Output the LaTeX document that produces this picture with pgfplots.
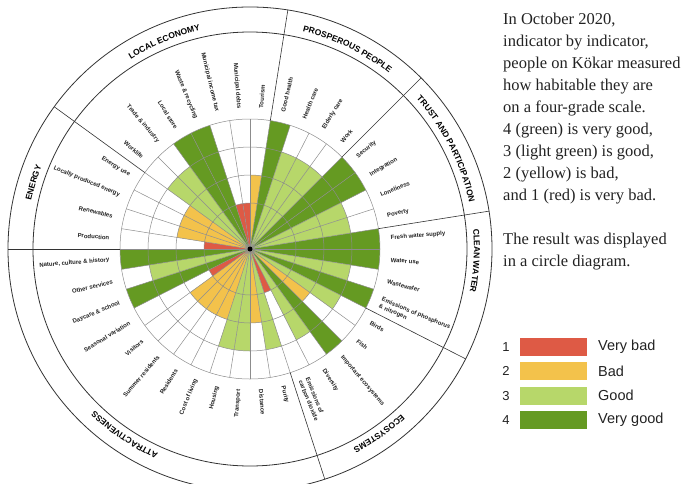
\documentclass[border=0pt]{standalone}
\usepackage{pgfplots}
\pgfplotsset{compat=1.18}
\usepackage{pgfplotstable}
\usetikzlibrary{decorations.text}
\usepackage{fontspec}
\setmainfont{Liberation Serif}
\setsansfont{Liberation Sans}
\definecolor{lev1}{HTML}{DE5A45}
\definecolor{lev2}{HTML}{F3C24B}
\definecolor{lev3}{HTML}{B7D76A}
\definecolor{lev4}{HTML}{659A22}
\definecolor{gridc}{HTML}{8C8C8C}
\definecolor{linec}{HTML}{333333}
\definecolor{txt}{HTML}{222222}

% start angle of each 9-degree sector (counter-clockwise from east) and its grade 1-4
\pgfplotstableread{
start level
0 4
-9 4
-18 3
-27 4
-36 3
-45 2
-54 4
-63 3
-72 1
-81 3
-90 2
-99 3
-108 3
-117 2
-126 2
-135 2
-144 2
-153 1
-162 4
-171 3
-180 4
171 1
162 2
153 2
144 2
135 3
126 3
117 4
108 4
99 1
90 1
81 2
72 4
63 3
54 3
45 3
36 4
27 4
18 3
9 3
}\sectors

\tikzset{lab/.style={inner sep=0pt, text=txt, font=\sffamily\bfseries\fontsize{6}{7.6}\selectfont}}
\newcommand\labR[2]{\node[lab, anchor=west, rotate=#1, align=left] at (#1:141pt) {#2};}
\newcommand\labL[2]{\node[lab, anchor=east, rotate=#1-180, align=right] at (#1:141pt) {#2};}
\newcommand\cat[2]{\path[decorate, decoration={text along path, text align=center,
  text={|\sffamily\bfseries\fontsize{8.5}{10}\selectfont|#2}}]
  ({#1+30}:224pt) arc[start angle={#1+30}, end angle={#1-30}, radius=224pt];}

\begin{document}
\begin{tikzpicture}[x=1pt,y=1pt]
\path[use as bounding box] (-250,-234) rectangle (448,249);
\clip (-250,-234) rectangle (448,249);
\begin{axis}[x=1pt, y=1pt, at={(0,0)}, anchor=origin, hide axis,
  xmin=-245, xmax=245, ymin=-245, ymax=245, clip=false]
\pgfplotsinvokeforeach{0,...,39}{
  \pgfplotstablegetelem{#1}{start}\of\sectors \let\wA\pgfplotsretval
  \pgfplotstablegetelem{#1}{level}\of\sectors \let\wL\pgfplotsretval
  \pgfmathsetmacro\wR{18+28*\wL}
  \pgfmathsetmacro\wM{\wA+4.5}
  \pgfmathsetmacro\wB{\wA+9}
  \edef\temp{\noexpand\addplot[data cs=polar, fill=lev\wL, draw=none, forget plot]
    coordinates {(\wA,0) (\wA,\wR) (\wM,\wR) (\wB,\wR)};}
  \temp
}
\end{axis}
% grid
\foreach \a in {0,9,...,351} \draw[gridc, line width=0.5pt] (0,0) -- (\a:130pt);
\foreach \r in {46,74,102,130} \draw[gridc, line width=0.5pt] (0,0) circle[radius=\r pt];
\foreach \a in {81,45,9,-27,-72,180,144} \draw[linec, line width=0.6pt] (\a:130pt) -- (\a:242pt);
\draw[linec, line width=0.8pt] (0,0) circle[radius=217pt];
\draw[linec, line width=0.8pt] (0,0) circle[radius=242pt];
\fill[black] (0,0) circle[radius=2.5pt];
% indicator labels
\labR{4.5}{Fresh water supply}
\labR{-4.5}{Water use}
\labR{-13.5}{Wastewater}
\labR{-22.5}{Emissions of phosphorus\\\& nitrogen}
\labR{-31.5}{Birds}
\labR{-40.5}{Fish}
\labR{-49.5}{Important ecosystems}
\labR{-58.5}{Diversity}
\labR{-67.5}{Emissions of\\carbon dioxide}
\labR{-76.5}{Purity}
\labR{-85.5}{Distance}
\labL{-94.5}{Transport}
\labL{-103.5}{Housing}
\labL{-112.5}{Cost of living}
\labL{-121.5}{Residents}
\labL{-130.5}{Summer residents}
\labL{-139.5}{Visitors}
\labL{-148.5}{Seasonal variation}
\labL{-157.5}{Daycare \& school}
\labL{-166.5}{Other services}
\labL{-175.5}{Nature, culture \& history}
\labL{175.5}{Production}
\labL{166.5}{Renewables}
\labL{157.5}{Locally produced energy}
\labL{148.5}{Energy use}
\labL{139.5}{Worklife}
\labL{130.5}{Trade \& industry}
\labL{121.5}{Local store}
\labL{112.5}{Waste \& recycling}
\labL{103.5}{Municipal income tax}
\labL{94.5}{Municipal debts}
\labR{85.5}{Tourism}
\labR{76.5}{Good health}
\labR{67.5}{Health care}
\labR{58.5}{Elderly care}
\labR{49.5}{Work}
\labR{40.5}{Security}
\labR{31.5}{Integration}
\labR{22.5}{Loneliness}
\labR{13.5}{Poverty}
% category titles
\cat{112.5}{LOCAL ECONOMY}
\cat{64}{PROSPEROUS PEOPLE}
\cat{27}{TRUST AND PARTICIPATION}
\cat{-3}{CLEAN WATER}
\cat{-55}{ECOSYSTEMS}
\cat{-124}{ATTRACTIVENESS}
\cat{163}{ENERGY}
% explanatory text
\begin{scope}[every node/.style={anchor=base west, inner sep=0pt, text=txt, font=\fontsize{16.5}{20}\selectfont}]
\node at (253,225) {In October 2020,};
\node at (253,203) {indicator by indicator,};
\node at (253,181) {people on Kökar measured};
\node at (253,159) {how habitable they are};
\node at (253,137) {on a four-grade scale.};
\node at (253,115) {4 (green) is very good,};
\node at (253,93) {3 (light green) is good,};
\node at (253,71) {2 (yellow) is bad,};
\node at (253,49) {and 1 (red) is very bad.};
\node at (253,5) {The result was displayed};
\node at (253,-17) {in a circle diagram.};
\end{scope}
% legend
\foreach \i/\t in {1/Very bad, 2/Bad, 3/Good, 4/Very good}{
  \pgfmathsetmacro\yy{-98-24.3*(\i-1)}
  \node[anchor=center, inner sep=0pt, font=\sffamily\fontsize{13}{15}\selectfont, text=txt] at (256,\yy) {\i};
  \fill[lev\i] (270,\yy-9) rectangle (337,\yy+9);
  \node[anchor=west, inner sep=0pt, font=\sffamily\fontsize{14.5}{16}\selectfont, text=txt] at (348,\yy) {\t};
}
\end{tikzpicture}
\end{document}
